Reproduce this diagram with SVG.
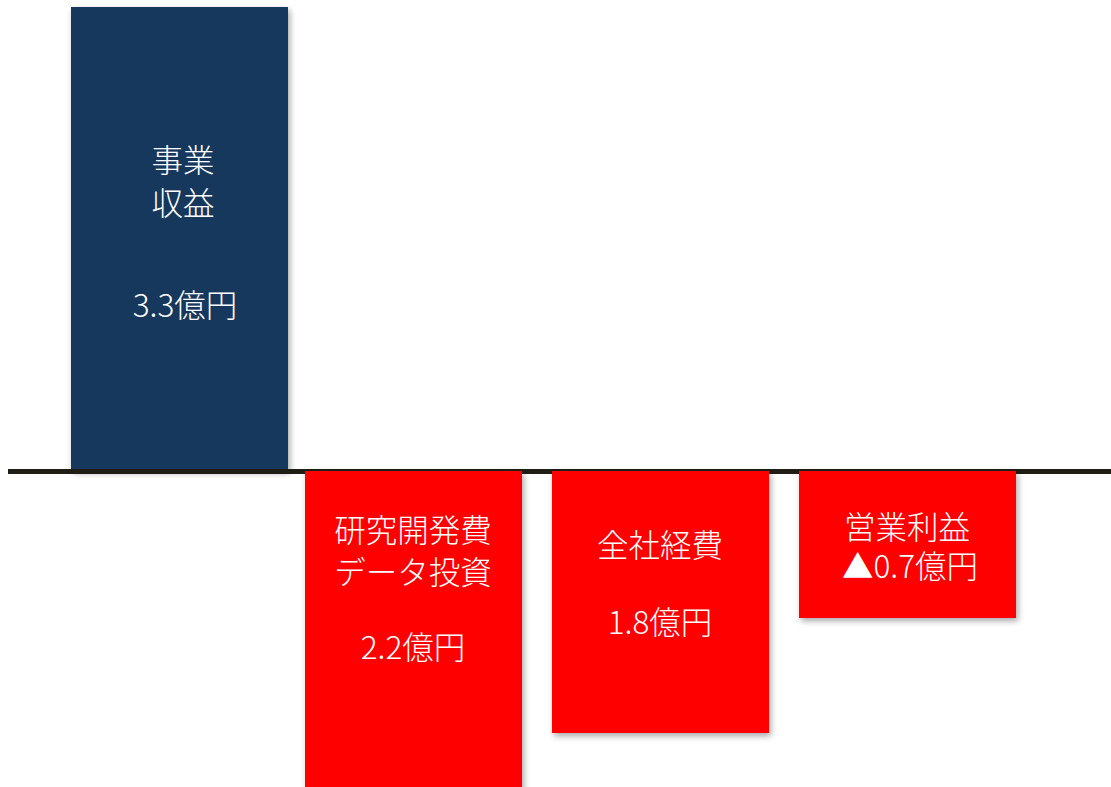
<svg xmlns="http://www.w3.org/2000/svg" width="1111" height="787" viewBox="0 0 1111 787">
<defs>
<filter id="sh" x="-10%" y="-10%" width="125%" height="125%">
<feGaussianBlur in="SourceAlpha" stdDeviation="3"/>
<feOffset dx="2" dy="3" result="b"/>
<feComponentTransfer><feFuncA type="linear" slope="0.35"/></feComponentTransfer>
<feMerge><feMergeNode/><feMergeNode in="SourceGraphic"/></feMerge>
</filter>
<style>
.lbl{font-family:"Noto Sans CJK JP","Noto Sans",sans-serif;font-weight:300;font-size:31.5px;fill:#ffffff;text-anchor:middle}
.red{fill:#ff0000}
.navy{fill:#19375d}
</style>
</defs>
<rect width="1111" height="787" fill="#ffffff"/>
<g id="offscreen-box"><rect x="1110" y="263" width="10" height="120" fill="#ffffff" filter="url(#sh)"/></g>
<g id="revenue">
<rect class="navy" x="71" y="7" width="217" height="463" filter="url(#sh)"/>
<text class="lbl" x="183" y="172">事業<tspan x="183" dy="43">収益</tspan></text>
<text class="lbl" x="185" y="317">3.3億円</text>
</g>
<g id="connectors">
<rect x="8" y="469" width="1103" height="5" fill="#1f1d14"/>
</g>
<g id="rnd">
<rect class="red" x="305" y="471" width="217" height="320" filter="url(#sh)"/>
<text class="lbl" x="413" y="542">研究開発費<tspan x="413" dy="42">データ投資</tspan></text>
<text class="lbl" x="413" y="659">2.2億円</text>
</g>
<g id="corporate">
<rect class="red" x="552" y="471" width="217" height="262" filter="url(#sh)"/>
<text class="lbl" x="660" y="557">全社経費</text>
<text class="lbl" x="660" y="634">1.8億円</text>
</g>
<g id="operating">
<rect class="red" x="799" y="471" width="217" height="147" filter="url(#sh)"/>
<text class="lbl" x="907" y="539">営業利益<tspan x="910" dy="39">▲0.7億円</tspan></text>
</g>
</svg>
